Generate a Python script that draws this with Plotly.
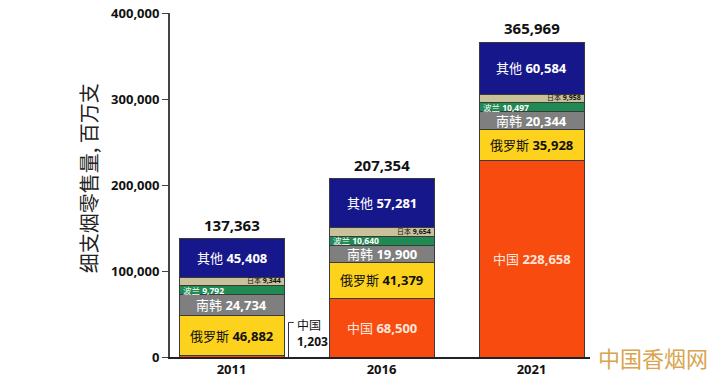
import plotly.graph_objects as go

years = ["2011", "2016", "2021"]
series_names = ["中国", "俄罗斯", "南韩", "波兰", "日本", "其他"]
china = [1203, 68500, 228658]
russia = [46882, 41379, 35928]
korea = [24734, 19900, 20344]
poland = [9792, 10640, 10497]
japan = [9344, 9654, 9958]
other = [45408, 57281, 60584]
totals = [137363, 207354, 365969]
y_ticks = [0, 100000, 200000, 300000, 400000]
y_tick_labels = ["0", "100,000", "200,000", "300,000", "400,000"]

series_values = [china, russia, korea, poland, japan, other]
colors = ["#F84B10", "#FDD21C", "#7F7F7F", "#1F8A52", "#C8C19A", "#17178C"]
label_colors = ["#FFE6DA", "#111111", "#FFFFFF", "#FFFFFF", "#111111", "#FFFFFF"]

FONT = "Open Sans, Noto Sans CJK SC, sans-serif"
BAR_W = 0.7

fig = go.Figure()
for name, vals, col in zip(series_names, series_values, colors):
    fig.add_trace(go.Bar(
        x=years, y=vals, name=name, width=BAR_W,
        marker=dict(color=col, line=dict(color="#3a3a3a", width=1)),
        hoverinfo="name+y",
    ))

annotations = []
for i, yr in enumerate(years):
    base = 0
    for s, (name, vals) in enumerate(zip(series_names, series_values)):
        v = vals[i]
        mid = base + v / 2
        base += v
        txt = f"{name} <b>{v:,}</b>"
        if name == "中国" and i == 0:
            continue
        if name == "波兰":
            annotations.append(dict(x=i - BAR_W / 2 + 0.015, y=mid, text=txt, xanchor="left",
                                    yanchor="middle", showarrow=False,
                                    font=dict(size=8.5, color=label_colors[s], family=FONT)))
        elif name == "日本":
            annotations.append(dict(x=i + BAR_W / 2 - 0.005, y=mid, text=txt, xanchor="right",
                                    yanchor="middle", showarrow=False, yshift=1,
                                    font=dict(size=7, color=label_colors[s], family=FONT)))
        else:
            annotations.append(dict(x=i, y=mid, text=txt, xanchor="center", yanchor="middle",
                                    showarrow=False,
                                    font=dict(size=13, color=label_colors[s], family=FONT)))
    annotations.append(dict(x=i, y=totals[i], text=f"<b>{totals[i]:,}</b>", xanchor="center",
                            yanchor="bottom", yshift=2, showarrow=False,
                            font=dict(size=15, color="#111111", family=FONT)))

# 2011 China callout
annotations.append(dict(x=0.42, y=china[0] + 41000, yshift=6, text=f"中国<br><b>{china[0]:,}</b>",
                        xanchor="left", yanchor="top", align="left", showarrow=False,
                        font=dict(size=12, color="#111111", family=FONT)))
shapes = [
    dict(type="line", xref="x", yref="y", x0=0.38, x1=0.38, y0=0, y1=china[0] + 39000,
         line=dict(color="#333333", width=1)),
    dict(type="line", xref="x", yref="y", x0=0.38, x1=0.415, y0=china[0] + 39000, y1=china[0] + 39000,
         line=dict(color="#333333", width=1)),
]

# y-axis title
annotations.append(dict(xref="paper", yref="paper", x=-0.195, y=0.52, text="细支烟零售量, 百万支",
                        textangle=-90, xanchor="center", yanchor="middle", showarrow=False,
                        font=dict(size=20, color="#222222", family="Noto Sans CJK SC")))

# watermark
annotations.append(dict(xref="paper", yref="paper", x=1.15, y=0.0, text="中国香烟网",
                        xanchor="center", yanchor="middle", showarrow=False,
                        font=dict(size=22, color="#D9A44E", family="Noto Sans CJK SC")))

fig.update_layout(
    barmode="stack",
    width=711, height=381,
    margin=dict(l=170, r=121, t=13, b=24, autoexpand=False),
    paper_bgcolor="white", plot_bgcolor="white",
    showlegend=False,
    annotations=annotations,
    shapes=shapes,
    font=dict(family=FONT, color="#111111"),
    xaxis=dict(
        type="category", range=[-0.41, 2.39], automargin=False,
        showline=True, linecolor="#222222", linewidth=1.5,
        ticks="", showgrid=False, zeroline=False,
        tickfont=dict(size=13, color="#111111", family=FONT),
        tickprefix="<b>", ticksuffix="</b>",
    ),
    yaxis=dict(
        range=[0, 400000], automargin=False,
        tickvals=y_ticks, ticktext=[f"<b>{t}</b>" for t in y_tick_labels],
        showline=True, linecolor="#444444", linewidth=2,
        ticks="outside", ticklen=6, tickcolor="#444444",
        showgrid=False, zeroline=False,
        tickfont=dict(size=13, color="#111111", family=FONT),
    ),
)

fig.write_html("out.html", config={"displayModeBar": False},
               post_script="document.body.style.margin='0';")
